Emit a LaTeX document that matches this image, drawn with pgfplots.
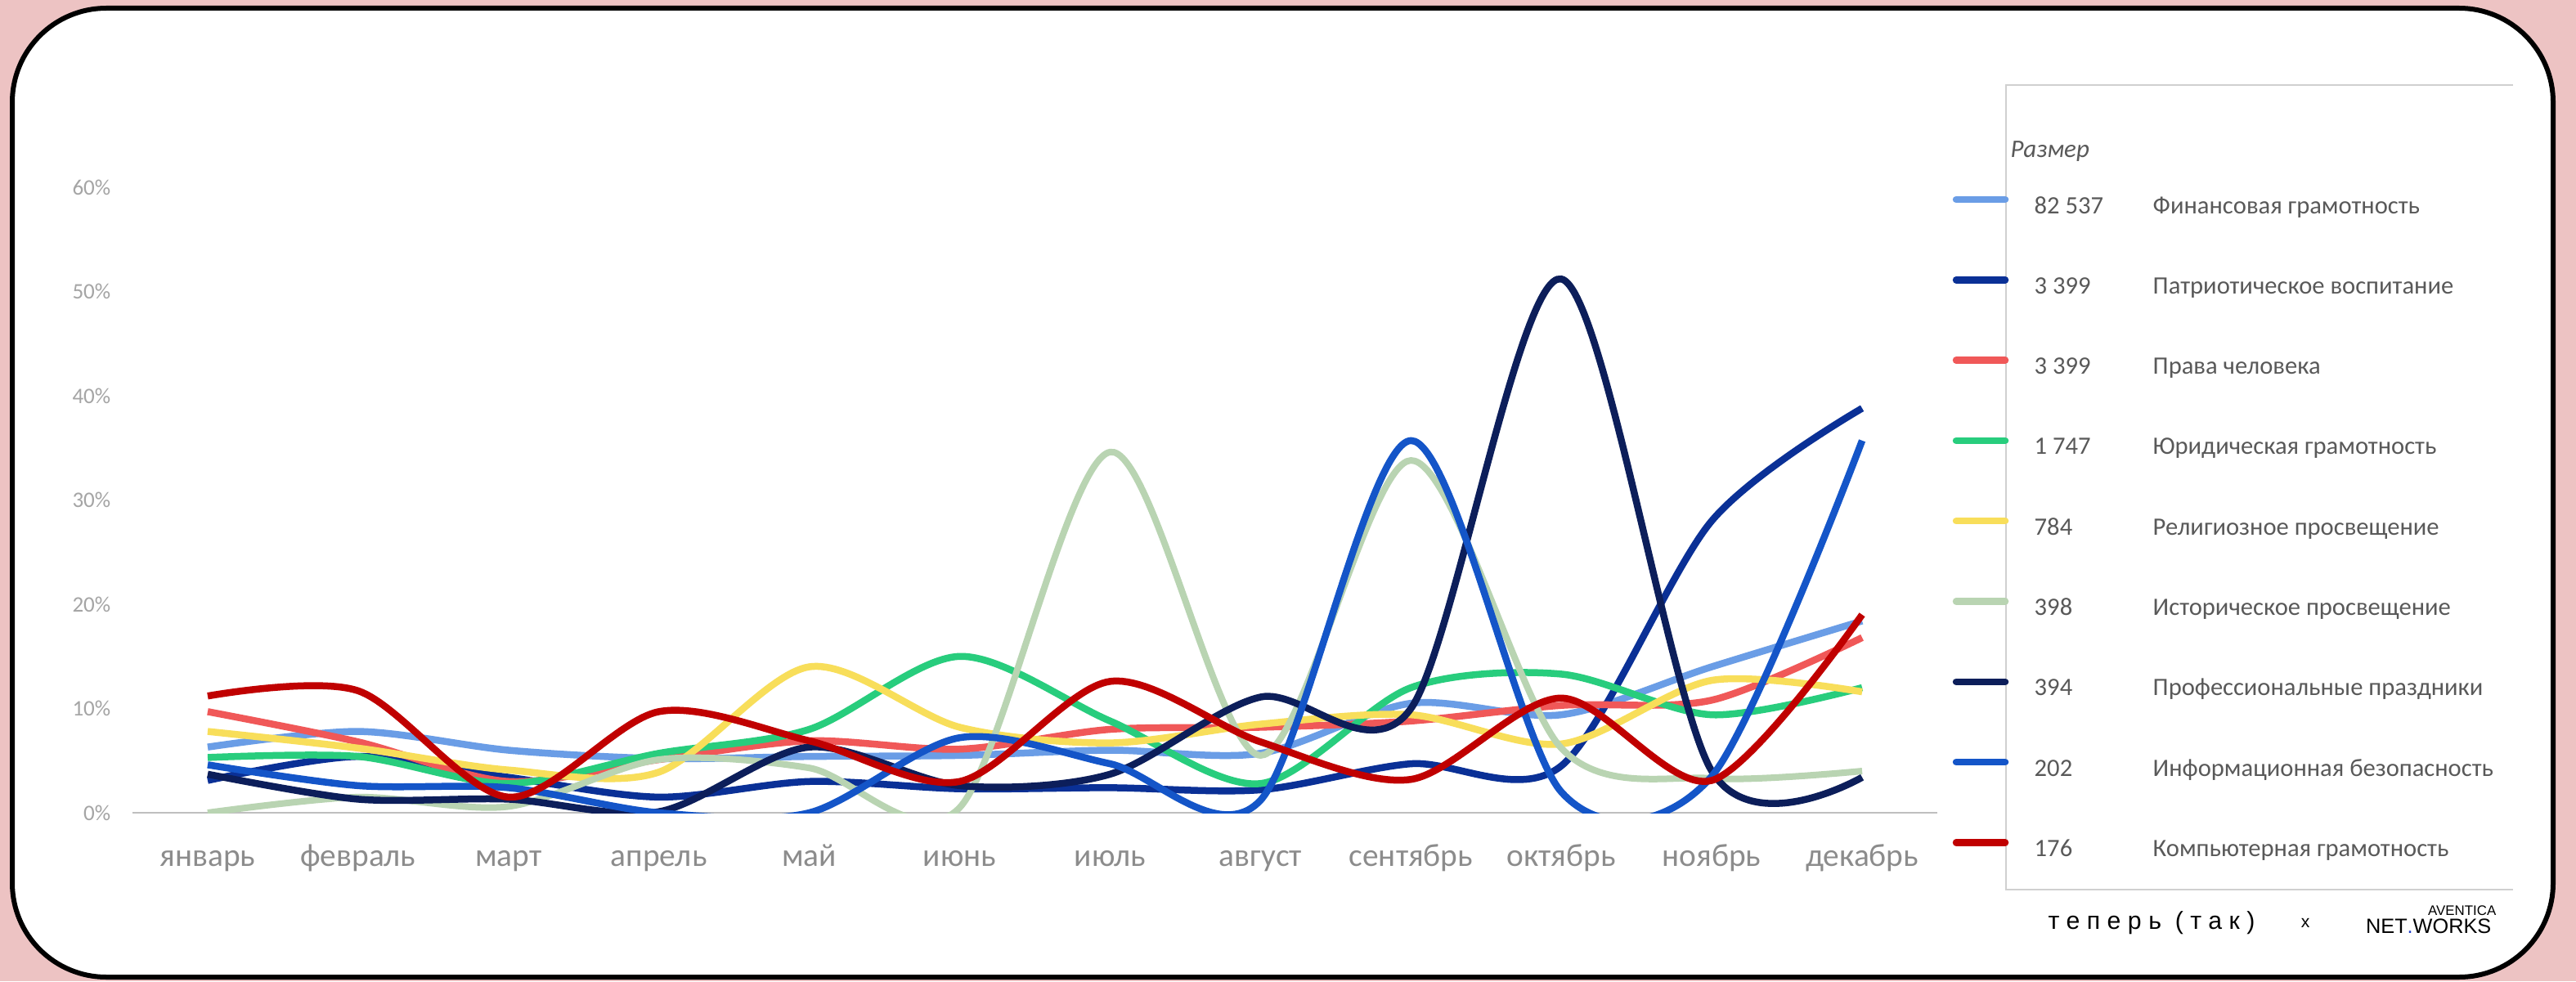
\documentclass[border=0pt]{standalone}
\usepackage{pgfplots}
\pgfplotsset{compat=1.18}
\usepackage{pgfplotstable}
\usepackage{fontspec}
\setmainfont{Carlito}
\newfontfamily\logofont{Liberation Sans}
\newfontfamily\teperfont[LetterSpace=28]{Liberation Sans}

\definecolor{pinkbg}{RGB}{237,195,195}
\definecolor{axisgray}{RGB}{191,191,191}
\definecolor{monthgray}{RGB}{140,140,140}
\definecolor{tickgray}{RGB}{165,165,165}
\definecolor{leggray}{RGB}{89,89,89}
\definecolor{framegray}{RGB}{208,208,208}
\definecolor{netblue}{RGB}{30,60,200}

\definecolor{cfin}{RGB}{106,157,230}
\definecolor{cpat}{RGB}{10,48,150}
\definecolor{cprava}{RGB}{240,88,88}
\definecolor{clegal}{RGB}{40,205,125}
\definecolor{crel}{RGB}{248,222,90}
\definecolor{chist}{RGB}{185,212,178}
\definecolor{cprof}{RGB}{12,30,90}
\definecolor{cinfo}{RGB}{20,85,200}
\definecolor{ccomp}{RGB}{192,0,0}

\pgfplotstableread{
m  fin  pat  prava legal rel  hist prof info comp
0  6.3  3.1  9.7   5.3   7.8  0.0  3.7  4.6  11.2
1  7.8  5.4  6.8   5.4   6.2  1.5  1.3  2.6  11.7
2  6.0  3.4  3.0   2.8   4.1  0.6  1.3  2.4  1.5
3  5.2  1.5  5.1   5.7   3.9  5.1  0.1  0.0  9.7
4  5.4  3.0  6.9   8.0   14.0 4.3  6.3  0.0  6.9
5  5.5  2.3  6.1   15.0  8.2  0.5  2.6  7.2  3.0
6  6.0  2.4  8.0   8.8   6.7  34.6 3.7  4.7  12.6
7  5.7  2.2  8.2   2.8   8.5  5.5  11.1 1.2  6.8
8  10.5 4.7  8.8   12.0  9.4  33.8 10.0 35.7 3.2
9  9.4  4.5  10.3  13.3  6.6  6.2  51.2 2.0  11.0
10 14.0 28.0 10.8  9.4   12.7 3.3  4.0  3.5  3.1
11 18.4 38.8 16.8  12.0  11.6 4.0  3.4  35.7 19.0
}\datatable

\newcommand{\legentry}[4]{%
  \draw[#2, line width=0.85mm, line cap=round] (239.2mm,{(120-25.3-9.83*#1+0.9)*1mm}) -- (245.2mm,{(120-25.3-9.83*#1+0.9)*1mm});
  \node[anchor=base west, inner sep=0pt, text=leggray, font=\fontsize{8.7}{10}\selectfont] at (248.7mm,{(120-25.3-9.83*#1-0.8)*1mm}) {#3};
  \node[anchor=base west, inner sep=0pt, text=leggray, font=\fontsize{8.7}{10}\selectfont] at (263.2mm,{(120-25.3-9.83*#1-0.8)*1mm}) {#4};
}

\begin{document}
\begin{tikzpicture}
\fill[pinkbg] (0,0) rectangle (315mm,120mm);
\draw[line width=0.6mm, fill=white, rounded corners=11.5mm] (1.5mm,0.5mm) rectangle (312.2mm,119mm);

\begin{axis}[
  at={(16.2mm,20.6mm)}, anchor=south west,
  scale only axis, width=220.7mm, height=76.5mm,
  xmin=-0.5, xmax=11.5, ymin=0, ymax=60,
  axis x line*=bottom, axis y line*=left,
  x axis line style={draw=axisgray, line width=0.2mm},
  y axis line style={draw=none},
  major tick length=0pt,
  xtick={0,...,11},
  xticklabels={январь,февраль,март,апрель,май,июнь,июль,август,сентябрь,октябрь,ноябрь,декабрь},
  ytick={0,10,...,60},
  yticklabels={0\%,10\%,20\%,30\%,40\%,50\%,60\%},
  xticklabel style={font=\fontsize{11.2}{13}\selectfont, text=monthgray, anchor=base, yshift=-6.5mm, inner sep=0pt},
  yticklabel style={font=\fontsize{7.7}{9}\selectfont, text=tickgray, anchor=east, inner sep=0pt, xshift=-2.6mm},
  no markers,
  every axis plot/.append style={smooth, line width=0.85mm},
]
\addplot[cfin]   table[x=m,y=fin]{\datatable};
\addplot[cpat]   table[x=m,y=pat]{\datatable};
\addplot[cprava] table[x=m,y=prava]{\datatable};
\addplot[clegal] table[x=m,y=legal]{\datatable};
\addplot[crel]   table[x=m,y=rel]{\datatable};
\addplot[chist, line width=0.8mm]  table[x=m,y=hist]{\datatable};
\addplot[cprof]  table[x=m,y=prof]{\datatable};
\addplot[cinfo]  table[x=m,y=info]{\datatable};
\addplot[ccomp]  table[x=m,y=comp]{\datatable};
\end{axis}

% legend frame
\draw[framegray, line width=0.2mm] (307.3mm,109.6mm) -- (245.3mm,109.6mm) -- (245.3mm,11.2mm) -- (307.3mm,11.2mm);
\node[anchor=base west, inner sep=0pt, text=leggray, font=\itshape\fontsize{8.8}{10}\selectfont] at (245.8mm,100.7mm) {Размер};
\legentry{0}{cfin}{82 537}{Финансовая грамотность}
\legentry{1}{cpat}{3 399}{Патриотическое воспитание}
\legentry{2}{cprava}{3 399}{Права человека}
\legentry{3}{clegal}{1 747}{Юридическая грамотность}
\legentry{4}{crel}{784}{Религиозное просвещение}
\legentry{5}{chist}{398}{Историческое просвещение}
\legentry{6}{cprof}{394}{Профессиональные праздники}
\legentry{7}{cinfo}{202}{Информационная безопасность}
\legentry{8}{ccomp}{176}{Компьютерная грамотность}

% logos
\node[anchor=center, inner sep=0pt, font=\teperfont\fontsize{8.6}{10}\selectfont] at (263.1mm,7.1mm) {теперь (так)};
\node[anchor=center, inner sep=0pt, font=\logofont\fontsize{6}{7}\selectfont] at (281.9mm,7.1mm) {x};
\node[anchor=base east, inner sep=0pt, font=\logofont\fontsize{7.2}{8}\selectfont] at (304.7mm,5.9mm) {NET{\color{netblue}.}WORKS};
\node[anchor=base east, inner sep=0pt, font=\logofont\fontsize{4.8}{5}\selectfont] at (305.3mm,8.1mm) {AVENTICA};
\end{tikzpicture}
\end{document}
